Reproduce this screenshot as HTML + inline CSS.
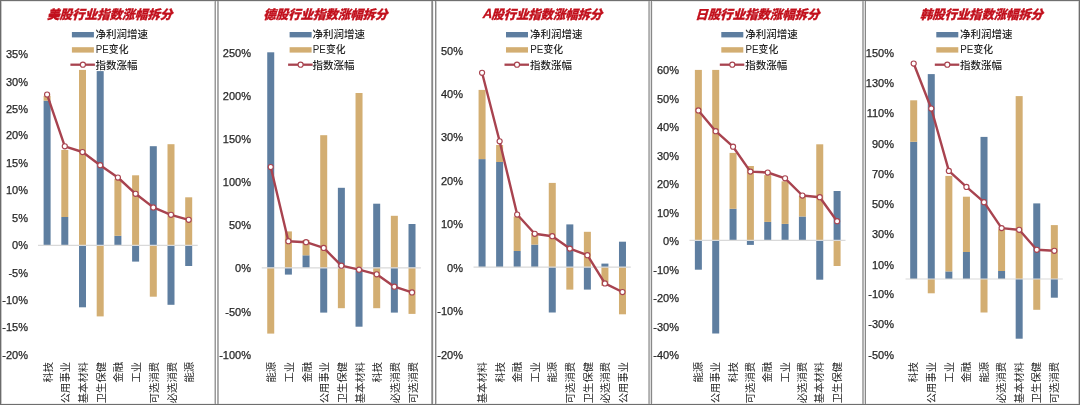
<!DOCTYPE html><html><head><meta charset="utf-8"><title>行业指数涨幅拆分</title><style>html,body{margin:0;padding:0;background:#fff;overflow:hidden;}svg{display:block;}.t{font-family:"Liberation Sans","Noto Sans CJK SC",sans-serif;font-weight:900;fill:#C2101C;font-size:12.5px;stroke:#C2101C;stroke-width:0.3px;}.l{font-family:"Liberation Sans","Noto Sans CJK SC",sans-serif;fill:#262626;font-size:10.5px;font-weight:500;}.y{font-family:"Liberation Sans","Noto Sans CJK SC",sans-serif;fill:#262626;font-size:11px;stroke:#262626;stroke-width:0.25px;}.x{font-family:"Liberation Sans","Noto Sans CJK SC",sans-serif;fill:#262626;font-size:10.3px;font-weight:400;}</style></head><body>
<svg width="1080" height="405" viewBox="0 0 1080 405">
<rect x="0" y="0" width="1080" height="405" fill="#fff"/>
<rect x="0" y="1" width="1080" height="1" fill="#e8e8e8"/>
<rect x="0" y="403" width="1080" height="1" fill="#f0f0f0"/>
<rect x="0" y="0" width="1" height="405" fill="#6b6b6b"/>
<rect x="1" y="0" width="1" height="405" fill="#c8c8c8"/>
<rect x="214" y="0" width="1" height="405" fill="#cccccc"/>
<rect x="215" y="0" width="1" height="405" fill="#999999"/>
<rect x="217" y="0" width="1" height="405" fill="#aaaaaa"/>
<rect x="218" y="0" width="1" height="405" fill="#b0b0b0"/>
<rect x="431" y="0" width="1" height="405" fill="#aaaaaa"/>
<rect x="432" y="0" width="1" height="405" fill="#888888"/>
<rect x="433" y="0" width="1" height="405" fill="#eeeeee"/>
<rect x="435" y="0" width="1" height="405" fill="#888888"/>
<rect x="436" y="0" width="1" height="405" fill="#cccccc"/>
<rect x="648" y="0" width="1" height="405" fill="#bbbbbb"/>
<rect x="649" y="0" width="1" height="405" fill="#b0b0b0"/>
<rect x="650" y="0" width="1" height="405" fill="#dddddd"/>
<rect x="651" y="0" width="1" height="405" fill="#888888"/>
<rect x="652" y="0" width="1" height="405" fill="#eeeeee"/>
<rect x="862" y="0" width="1" height="405" fill="#b0b0b0"/>
<rect x="863" y="0" width="1" height="405" fill="#b0b0b0"/>
<rect x="864" y="0" width="1" height="405" fill="#dddddd"/>
<rect x="865" y="0" width="1" height="405" fill="#888888"/>
<rect x="1078" y="0" width="1" height="405" fill="#cccccc"/>
<rect x="1079" y="0" width="1" height="405" fill="#6e6e6e"/>
<rect x="0" y="0" width="1080" height="1" fill="#707070"/>
<rect x="0" y="404" width="1080" height="1" fill="#6e6e6e"/>
<g>
<text class="t" transform="translate(47,19) skewX(-16) scale(1.09,1)" x="0" y="0" textLength="114.86" lengthAdjust="spacingAndGlyphs">美股行业指数涨幅拆分</text>
<rect x="71.9" y="32" width="22" height="5.4" fill="#5E7EA0"/>
<rect x="71.9" y="47.2" width="22" height="5.4" fill="#D3AE72"/>
<line x1="70.4" y1="64.7" x2="94.9" y2="64.7" stroke="#A8434F" stroke-width="2.3"/>
<circle cx="82.9" cy="64.7" r="2.55" fill="#fff" stroke="#A8434F" stroke-width="1.15"/>
<text class="l" x="95.4" y="38.2">净利润增速</text>
<text class="l" x="95.7" y="53.4" textLength="32.8" lengthAdjust="spacingAndGlyphs">PE变化</text>
<text class="l" x="95.4" y="68.7">指数涨幅</text>
<text class="y" x="28" y="58.2" text-anchor="end">35%</text>
<text class="y" x="28" y="85.6" text-anchor="end">30%</text>
<text class="y" x="28" y="112.5" text-anchor="end">25%</text>
<text class="y" x="28" y="139.4" text-anchor="end">20%</text>
<text class="y" x="28" y="166.7" text-anchor="end">15%</text>
<text class="y" x="28" y="194" text-anchor="end">10%</text>
<text class="y" x="28" y="221.5" text-anchor="end">5%</text>
<text class="y" x="28" y="248.9" text-anchor="end">0%</text>
<text class="y" x="28" y="276.5" text-anchor="end">-5%</text>
<text class="y" x="28" y="303.8" text-anchor="end">-10%</text>
<text class="y" x="28" y="331.2" text-anchor="end">-15%</text>
<text class="y" x="28" y="358.5" text-anchor="end">-20%</text>
<rect x="43.6" y="100.7" width="7" height="144.6" fill="#5E7EA0"/>
<rect x="43.6" y="95.8" width="7" height="4.9" fill="#D3AE72"/>
<rect x="61.3" y="217" width="7" height="28.3" fill="#5E7EA0"/>
<rect x="61.3" y="149.9" width="7" height="67.1" fill="#D3AE72"/>
<rect x="79" y="245.3" width="7" height="62" fill="#5E7EA0"/>
<rect x="79" y="69.9" width="7" height="175.4" fill="#D3AE72"/>
<rect x="96.7" y="71.1" width="7" height="174.2" fill="#5E7EA0"/>
<rect x="96.7" y="245.3" width="7" height="71.1" fill="#D3AE72"/>
<rect x="114.4" y="235.8" width="7" height="9.5" fill="#5E7EA0"/>
<rect x="114.4" y="179" width="7" height="56.8" fill="#D3AE72"/>
<rect x="132.1" y="245.3" width="7" height="16.3" fill="#5E7EA0"/>
<rect x="132.1" y="175.3" width="7" height="70" fill="#D3AE72"/>
<rect x="149.8" y="146.2" width="7" height="99.1" fill="#5E7EA0"/>
<rect x="149.8" y="245.3" width="7" height="51.4" fill="#D3AE72"/>
<rect x="167.5" y="245.3" width="7" height="59.5" fill="#5E7EA0"/>
<rect x="167.5" y="144.2" width="7" height="101.1" fill="#D3AE72"/>
<rect x="185.2" y="245.3" width="7" height="20.7" fill="#5E7EA0"/>
<rect x="185.2" y="197.3" width="7" height="48" fill="#D3AE72"/>
<line x1="38" y1="245.3" x2="197.7" y2="245.3" stroke="#D9D9D9" stroke-width="1.2"/>
<polyline points="47.1,94.6 64.8,146.3 82.5,152 100.2,165.2 117.9,177.5 135.6,193.8 153.3,207.4 171,214.8 188.7,219.8" fill="none" stroke="#A8434F" stroke-width="2.4" stroke-linejoin="round"/>
<circle cx="47.1" cy="94.6" r="2.55" fill="#fff" stroke="#A8434F" stroke-width="1.15"/>
<circle cx="64.8" cy="146.3" r="2.55" fill="#fff" stroke="#A8434F" stroke-width="1.15"/>
<circle cx="82.5" cy="152" r="2.55" fill="#fff" stroke="#A8434F" stroke-width="1.15"/>
<circle cx="100.2" cy="165.2" r="2.55" fill="#fff" stroke="#A8434F" stroke-width="1.15"/>
<circle cx="117.9" cy="177.5" r="2.55" fill="#fff" stroke="#A8434F" stroke-width="1.15"/>
<circle cx="135.6" cy="193.8" r="2.55" fill="#fff" stroke="#A8434F" stroke-width="1.15"/>
<circle cx="153.3" cy="207.4" r="2.55" fill="#fff" stroke="#A8434F" stroke-width="1.15"/>
<circle cx="171" cy="214.8" r="2.55" fill="#fff" stroke="#A8434F" stroke-width="1.15"/>
<circle cx="188.7" cy="219.8" r="2.55" fill="#fff" stroke="#A8434F" stroke-width="1.15"/>
<text class="x" transform="translate(51.6,362) rotate(-90)" x="0" y="0" text-anchor="end">科技</text>
<text class="x" transform="translate(69.3,362) rotate(-90)" x="0" y="0" text-anchor="end">公用事业</text>
<text class="x" transform="translate(87,362) rotate(-90)" x="0" y="0" text-anchor="end">基本材料</text>
<text class="x" transform="translate(104.7,362) rotate(-90)" x="0" y="0" text-anchor="end">卫生保健</text>
<text class="x" transform="translate(122.4,362) rotate(-90)" x="0" y="0" text-anchor="end">金融</text>
<text class="x" transform="translate(140.1,362) rotate(-90)" x="0" y="0" text-anchor="end">工业</text>
<text class="x" transform="translate(157.8,362) rotate(-90)" x="0" y="0" text-anchor="end">可选消费</text>
<text class="x" transform="translate(175.5,362) rotate(-90)" x="0" y="0" text-anchor="end">必选消费</text>
<text class="x" transform="translate(193.2,362) rotate(-90)" x="0" y="0" text-anchor="end">能源</text>
</g>
<g>
<text class="t" transform="translate(263.3,19) skewX(-16) scale(1.09,1)" x="0" y="0" textLength="113.85" lengthAdjust="spacingAndGlyphs">德股行业指数涨幅拆分</text>
<rect x="289.6" y="32" width="22" height="5.4" fill="#5E7EA0"/>
<rect x="289.6" y="47.2" width="22" height="5.4" fill="#D3AE72"/>
<line x1="288.1" y1="64.7" x2="312.6" y2="64.7" stroke="#A8434F" stroke-width="2.3"/>
<circle cx="300.6" cy="64.7" r="2.55" fill="#fff" stroke="#A8434F" stroke-width="1.15"/>
<text class="l" x="312.5" y="38.2">净利润增速</text>
<text class="l" x="312.8" y="53.4" textLength="32.8" lengthAdjust="spacingAndGlyphs">PE变化</text>
<text class="l" x="312.5" y="68.7">指数涨幅</text>
<text class="y" x="251" y="57" text-anchor="end">250%</text>
<text class="y" x="251" y="100.1" text-anchor="end">200%</text>
<text class="y" x="251" y="142.8" text-anchor="end">150%</text>
<text class="y" x="251" y="186.3" text-anchor="end">100%</text>
<text class="y" x="251" y="229.1" text-anchor="end">50%</text>
<text class="y" x="251" y="272" text-anchor="end">0%</text>
<text class="y" x="251" y="316" text-anchor="end">-50%</text>
<text class="y" x="251" y="359" text-anchor="end">-100%</text>
<rect x="267.23" y="52.3" width="7" height="215.5" fill="#5E7EA0"/>
<rect x="267.23" y="267.8" width="7" height="65.8" fill="#D3AE72"/>
<rect x="284.89" y="267.8" width="7" height="6.8" fill="#5E7EA0"/>
<rect x="284.89" y="231.4" width="7" height="36.4" fill="#D3AE72"/>
<rect x="302.55" y="255.3" width="7" height="12.5" fill="#5E7EA0"/>
<rect x="302.55" y="240" width="7" height="15.3" fill="#D3AE72"/>
<rect x="320.21" y="267.8" width="7" height="44.8" fill="#5E7EA0"/>
<rect x="320.21" y="135.2" width="7" height="132.6" fill="#D3AE72"/>
<rect x="337.87" y="187.8" width="7" height="80" fill="#5E7EA0"/>
<rect x="337.87" y="267.8" width="7" height="40.4" fill="#D3AE72"/>
<rect x="355.53" y="267.8" width="7" height="58.9" fill="#5E7EA0"/>
<rect x="355.53" y="93" width="7" height="174.8" fill="#D3AE72"/>
<rect x="373.19" y="203.7" width="7" height="64.1" fill="#5E7EA0"/>
<rect x="373.19" y="267.8" width="7" height="40.4" fill="#D3AE72"/>
<rect x="390.85" y="267.8" width="7" height="44.8" fill="#5E7EA0"/>
<rect x="390.85" y="215.8" width="7" height="52" fill="#D3AE72"/>
<rect x="408.51" y="224" width="7" height="43.8" fill="#5E7EA0"/>
<rect x="408.51" y="267.8" width="7" height="46.1" fill="#D3AE72"/>
<line x1="261.7" y1="267.8" x2="420.9" y2="267.8" stroke="#D9D9D9" stroke-width="1.2"/>
<polyline points="270.73,167 288.39,241.2 306.05,242.2 323.71,247.9 341.37,265.7 359.03,269.7 376.69,274.3 394.35,286.7 412.01,292.4" fill="none" stroke="#A8434F" stroke-width="2.4" stroke-linejoin="round"/>
<circle cx="270.73" cy="167" r="2.55" fill="#fff" stroke="#A8434F" stroke-width="1.15"/>
<circle cx="288.39" cy="241.2" r="2.55" fill="#fff" stroke="#A8434F" stroke-width="1.15"/>
<circle cx="306.05" cy="242.2" r="2.55" fill="#fff" stroke="#A8434F" stroke-width="1.15"/>
<circle cx="323.71" cy="247.9" r="2.55" fill="#fff" stroke="#A8434F" stroke-width="1.15"/>
<circle cx="341.37" cy="265.7" r="2.55" fill="#fff" stroke="#A8434F" stroke-width="1.15"/>
<circle cx="359.03" cy="269.7" r="2.55" fill="#fff" stroke="#A8434F" stroke-width="1.15"/>
<circle cx="376.69" cy="274.3" r="2.55" fill="#fff" stroke="#A8434F" stroke-width="1.15"/>
<circle cx="394.35" cy="286.7" r="2.55" fill="#fff" stroke="#A8434F" stroke-width="1.15"/>
<circle cx="412.01" cy="292.4" r="2.55" fill="#fff" stroke="#A8434F" stroke-width="1.15"/>
<text class="x" transform="translate(275.23,362) rotate(-90)" x="0" y="0" text-anchor="end">能源</text>
<text class="x" transform="translate(292.89,362) rotate(-90)" x="0" y="0" text-anchor="end">工业</text>
<text class="x" transform="translate(310.55,362) rotate(-90)" x="0" y="0" text-anchor="end">金融</text>
<text class="x" transform="translate(328.21,362) rotate(-90)" x="0" y="0" text-anchor="end">公用事业</text>
<text class="x" transform="translate(345.87,362) rotate(-90)" x="0" y="0" text-anchor="end">卫生保健</text>
<text class="x" transform="translate(363.53,362) rotate(-90)" x="0" y="0" text-anchor="end">基本材料</text>
<text class="x" transform="translate(381.19,362) rotate(-90)" x="0" y="0" text-anchor="end">科技</text>
<text class="x" transform="translate(398.85,362) rotate(-90)" x="0" y="0" text-anchor="end">必选消费</text>
<text class="x" transform="translate(416.51,362) rotate(-90)" x="0" y="0" text-anchor="end">可选消费</text>
</g>
<g>
<text class="t" transform="translate(481.8,19) skewX(-16) scale(1.09,1)" x="0" y="0" textLength="110.46" lengthAdjust="spacingAndGlyphs"><tspan font-size="13.3" dy="-0.8">A</tspan><tspan dy="0.8">股行业指数涨幅拆分</tspan></text>
<rect x="506" y="32" width="22" height="5.4" fill="#5E7EA0"/>
<rect x="506" y="47.2" width="22" height="5.4" fill="#D3AE72"/>
<line x1="504.5" y1="64.7" x2="529" y2="64.7" stroke="#A8434F" stroke-width="2.3"/>
<circle cx="517" cy="64.7" r="2.55" fill="#fff" stroke="#A8434F" stroke-width="1.15"/>
<text class="l" x="530" y="38.2">净利润增速</text>
<text class="l" x="530.3" y="53.4" textLength="32.8" lengthAdjust="spacingAndGlyphs">PE变化</text>
<text class="l" x="530" y="68.7">指数涨幅</text>
<text class="y" x="463" y="54.5" text-anchor="end">50%</text>
<text class="y" x="463" y="98.3" text-anchor="end">40%</text>
<text class="y" x="463" y="141.2" text-anchor="end">30%</text>
<text class="y" x="463" y="184.9" text-anchor="end">20%</text>
<text class="y" x="463" y="228.3" text-anchor="end">10%</text>
<text class="y" x="463" y="271.5" text-anchor="end">0%</text>
<text class="y" x="463" y="315.2" text-anchor="end">-10%</text>
<text class="y" x="463" y="358.9" text-anchor="end">-20%</text>
<rect x="478.57" y="159.1" width="7" height="108" fill="#5E7EA0"/>
<rect x="478.57" y="89.9" width="7" height="69.2" fill="#D3AE72"/>
<rect x="496.12" y="162" width="7" height="105.1" fill="#5E7EA0"/>
<rect x="496.12" y="145" width="7" height="17" fill="#D3AE72"/>
<rect x="513.67" y="251" width="7" height="16.1" fill="#5E7EA0"/>
<rect x="513.67" y="216.5" width="7" height="34.5" fill="#D3AE72"/>
<rect x="531.23" y="244.6" width="7" height="22.5" fill="#5E7EA0"/>
<rect x="531.23" y="233" width="7" height="11.6" fill="#D3AE72"/>
<rect x="548.77" y="267.1" width="7" height="45.4" fill="#5E7EA0"/>
<rect x="548.77" y="182.9" width="7" height="84.2" fill="#D3AE72"/>
<rect x="566.33" y="224.4" width="7" height="42.7" fill="#5E7EA0"/>
<rect x="566.33" y="267.1" width="7" height="22.5" fill="#D3AE72"/>
<rect x="583.88" y="267.1" width="7" height="22.5" fill="#5E7EA0"/>
<rect x="583.88" y="231.8" width="7" height="35.3" fill="#D3AE72"/>
<rect x="601.42" y="263.6" width="7" height="3.5" fill="#5E7EA0"/>
<rect x="601.42" y="267.1" width="7" height="18.8" fill="#D3AE72"/>
<rect x="618.98" y="241.7" width="7" height="25.4" fill="#5E7EA0"/>
<rect x="618.98" y="267.1" width="7" height="47.2" fill="#D3AE72"/>
<line x1="473.5" y1="267.1" x2="630.8" y2="267.1" stroke="#D9D9D9" stroke-width="1.2"/>
<polyline points="482.07,72.8 499.62,141.3 517.17,214.5 534.73,233.8 552.27,236.2 569.83,248.6 587.38,255.2 604.92,283.4 622.48,292" fill="none" stroke="#A8434F" stroke-width="2.4" stroke-linejoin="round"/>
<circle cx="482.07" cy="72.8" r="2.55" fill="#fff" stroke="#A8434F" stroke-width="1.15"/>
<circle cx="499.62" cy="141.3" r="2.55" fill="#fff" stroke="#A8434F" stroke-width="1.15"/>
<circle cx="517.17" cy="214.5" r="2.55" fill="#fff" stroke="#A8434F" stroke-width="1.15"/>
<circle cx="534.73" cy="233.8" r="2.55" fill="#fff" stroke="#A8434F" stroke-width="1.15"/>
<circle cx="552.27" cy="236.2" r="2.55" fill="#fff" stroke="#A8434F" stroke-width="1.15"/>
<circle cx="569.83" cy="248.6" r="2.55" fill="#fff" stroke="#A8434F" stroke-width="1.15"/>
<circle cx="587.38" cy="255.2" r="2.55" fill="#fff" stroke="#A8434F" stroke-width="1.15"/>
<circle cx="604.92" cy="283.4" r="2.55" fill="#fff" stroke="#A8434F" stroke-width="1.15"/>
<circle cx="622.48" cy="292" r="2.55" fill="#fff" stroke="#A8434F" stroke-width="1.15"/>
<text class="x" transform="translate(486.27,362) rotate(-90)" x="0" y="0" text-anchor="end">基本材料</text>
<text class="x" transform="translate(503.82,362) rotate(-90)" x="0" y="0" text-anchor="end">科技</text>
<text class="x" transform="translate(521.38,362) rotate(-90)" x="0" y="0" text-anchor="end">金融</text>
<text class="x" transform="translate(538.93,362) rotate(-90)" x="0" y="0" text-anchor="end">工业</text>
<text class="x" transform="translate(556.48,362) rotate(-90)" x="0" y="0" text-anchor="end">能源</text>
<text class="x" transform="translate(574.03,362) rotate(-90)" x="0" y="0" text-anchor="end">可选消费</text>
<text class="x" transform="translate(591.58,362) rotate(-90)" x="0" y="0" text-anchor="end">卫生保健</text>
<text class="x" transform="translate(609.12,362) rotate(-90)" x="0" y="0" text-anchor="end">必选消费</text>
<text class="x" transform="translate(626.68,362) rotate(-90)" x="0" y="0" text-anchor="end">公用事业</text>
</g>
<g>
<text class="t" transform="translate(695.3,19) skewX(-16) scale(1.09,1)" x="0" y="0" textLength="113.85" lengthAdjust="spacingAndGlyphs">日股行业指数涨幅拆分</text>
<rect x="721.3" y="32" width="22" height="5.4" fill="#5E7EA0"/>
<rect x="721.3" y="47.2" width="22" height="5.4" fill="#D3AE72"/>
<line x1="719.8" y1="64.7" x2="744.3" y2="64.7" stroke="#A8434F" stroke-width="2.3"/>
<circle cx="732.3" cy="64.7" r="2.55" fill="#fff" stroke="#A8434F" stroke-width="1.15"/>
<text class="l" x="745.2" y="38.2">净利润增速</text>
<text class="l" x="745.5" y="53.4" textLength="32.8" lengthAdjust="spacingAndGlyphs">PE变化</text>
<text class="l" x="745.2" y="68.7">指数涨幅</text>
<text class="y" x="679" y="74.3" text-anchor="end">60%</text>
<text class="y" x="679" y="102.5" text-anchor="end">50%</text>
<text class="y" x="679" y="131.4" text-anchor="end">40%</text>
<text class="y" x="679" y="159.8" text-anchor="end">30%</text>
<text class="y" x="679" y="188.3" text-anchor="end">20%</text>
<text class="y" x="679" y="216.7" text-anchor="end">10%</text>
<text class="y" x="679" y="245.1" text-anchor="end">0%</text>
<text class="y" x="679" y="273.7" text-anchor="end">-10%</text>
<text class="y" x="679" y="302.1" text-anchor="end">-20%</text>
<text class="y" x="679" y="330.5" text-anchor="end">-30%</text>
<text class="y" x="679" y="358.9" text-anchor="end">-40%</text>
<rect x="694.87" y="240.4" width="7" height="29.3" fill="#5E7EA0"/>
<rect x="694.87" y="69.9" width="7" height="170.5" fill="#D3AE72"/>
<rect x="712.21" y="240.4" width="7" height="93.1" fill="#5E7EA0"/>
<rect x="712.21" y="69.9" width="7" height="170.5" fill="#D3AE72"/>
<rect x="729.55" y="208.8" width="7" height="31.6" fill="#5E7EA0"/>
<rect x="729.55" y="152.9" width="7" height="55.9" fill="#D3AE72"/>
<rect x="746.89" y="240.4" width="7" height="4.5" fill="#5E7EA0"/>
<rect x="746.89" y="166" width="7" height="74.4" fill="#D3AE72"/>
<rect x="764.23" y="221.9" width="7" height="18.5" fill="#5E7EA0"/>
<rect x="764.23" y="175.1" width="7" height="46.8" fill="#D3AE72"/>
<rect x="781.57" y="223.9" width="7" height="16.5" fill="#5E7EA0"/>
<rect x="781.57" y="181.3" width="7" height="42.6" fill="#D3AE72"/>
<rect x="798.91" y="216.5" width="7" height="23.9" fill="#5E7EA0"/>
<rect x="798.91" y="196" width="7" height="20.5" fill="#D3AE72"/>
<rect x="816.25" y="240.4" width="7" height="39.3" fill="#5E7EA0"/>
<rect x="816.25" y="144.3" width="7" height="96.1" fill="#D3AE72"/>
<rect x="833.59" y="191" width="7" height="49.4" fill="#5E7EA0"/>
<rect x="833.59" y="240.4" width="7" height="25.6" fill="#D3AE72"/>
<line x1="689.5" y1="240.4" x2="845.5" y2="240.4" stroke="#D9D9D9" stroke-width="1.2"/>
<polyline points="698.37,110.4 715.71,131.2 733.05,146.7 750.39,171.6 767.73,172.5 785.07,178.3 802.41,195.5 819.75,197.2 837.09,221.2" fill="none" stroke="#A8434F" stroke-width="2.4" stroke-linejoin="round"/>
<circle cx="698.37" cy="110.4" r="2.55" fill="#fff" stroke="#A8434F" stroke-width="1.15"/>
<circle cx="715.71" cy="131.2" r="2.55" fill="#fff" stroke="#A8434F" stroke-width="1.15"/>
<circle cx="733.05" cy="146.7" r="2.55" fill="#fff" stroke="#A8434F" stroke-width="1.15"/>
<circle cx="750.39" cy="171.6" r="2.55" fill="#fff" stroke="#A8434F" stroke-width="1.15"/>
<circle cx="767.73" cy="172.5" r="2.55" fill="#fff" stroke="#A8434F" stroke-width="1.15"/>
<circle cx="785.07" cy="178.3" r="2.55" fill="#fff" stroke="#A8434F" stroke-width="1.15"/>
<circle cx="802.41" cy="195.5" r="2.55" fill="#fff" stroke="#A8434F" stroke-width="1.15"/>
<circle cx="819.75" cy="197.2" r="2.55" fill="#fff" stroke="#A8434F" stroke-width="1.15"/>
<circle cx="837.09" cy="221.2" r="2.55" fill="#fff" stroke="#A8434F" stroke-width="1.15"/>
<text class="x" transform="translate(702.07,362) rotate(-90)" x="0" y="0" text-anchor="end">能源</text>
<text class="x" transform="translate(719.41,362) rotate(-90)" x="0" y="0" text-anchor="end">公用事业</text>
<text class="x" transform="translate(736.75,362) rotate(-90)" x="0" y="0" text-anchor="end">科技</text>
<text class="x" transform="translate(754.09,362) rotate(-90)" x="0" y="0" text-anchor="end">可选消费</text>
<text class="x" transform="translate(771.43,362) rotate(-90)" x="0" y="0" text-anchor="end">金融</text>
<text class="x" transform="translate(788.77,362) rotate(-90)" x="0" y="0" text-anchor="end">工业</text>
<text class="x" transform="translate(806.11,362) rotate(-90)" x="0" y="0" text-anchor="end">必选消费</text>
<text class="x" transform="translate(823.45,362) rotate(-90)" x="0" y="0" text-anchor="end">基本材料</text>
<text class="x" transform="translate(840.79,362) rotate(-90)" x="0" y="0" text-anchor="end">卫生保健</text>
</g>
<g>
<text class="t" transform="translate(920,19) skewX(-16) scale(1.09,1)" x="0" y="0" textLength="112.66" lengthAdjust="spacingAndGlyphs">韩股行业指数涨幅拆分</text>
<rect x="936.3" y="32" width="22" height="5.4" fill="#5E7EA0"/>
<rect x="936.3" y="47.2" width="22" height="5.4" fill="#D3AE72"/>
<line x1="934.8" y1="64.7" x2="959.3" y2="64.7" stroke="#A8434F" stroke-width="2.3"/>
<circle cx="947.3" cy="64.7" r="2.55" fill="#fff" stroke="#A8434F" stroke-width="1.15"/>
<text class="l" x="960" y="38.2">净利润增速</text>
<text class="l" x="960.3" y="53.4" textLength="32.8" lengthAdjust="spacingAndGlyphs">PE变化</text>
<text class="l" x="960" y="68.7">指数涨幅</text>
<text class="y" x="894" y="57" text-anchor="end">150%</text>
<text class="y" x="894" y="87.1" text-anchor="end">130%</text>
<text class="y" x="894" y="117.3" text-anchor="end">110%</text>
<text class="y" x="894" y="147.7" text-anchor="end">90%</text>
<text class="y" x="894" y="177.5" text-anchor="end">70%</text>
<text class="y" x="894" y="207.9" text-anchor="end">50%</text>
<text class="y" x="894" y="238.2" text-anchor="end">30%</text>
<text class="y" x="894" y="268.5" text-anchor="end">10%</text>
<text class="y" x="894" y="298.1" text-anchor="end">-10%</text>
<text class="y" x="894" y="328.2" text-anchor="end">-30%</text>
<text class="y" x="894" y="358.9" text-anchor="end">-50%</text>
<rect x="910.19" y="141.8" width="7" height="137.2" fill="#5E7EA0"/>
<rect x="910.19" y="100.3" width="7" height="41.5" fill="#D3AE72"/>
<rect x="927.77" y="74.1" width="7" height="204.9" fill="#5E7EA0"/>
<rect x="927.77" y="279" width="7" height="14.3" fill="#D3AE72"/>
<rect x="945.35" y="271.4" width="7" height="7.6" fill="#5E7EA0"/>
<rect x="945.35" y="175.9" width="7" height="95.5" fill="#D3AE72"/>
<rect x="962.93" y="252" width="7" height="27" fill="#5E7EA0"/>
<rect x="962.93" y="196.7" width="7" height="55.3" fill="#D3AE72"/>
<rect x="980.51" y="136.9" width="7" height="142.1" fill="#5E7EA0"/>
<rect x="980.51" y="279" width="7" height="33.5" fill="#D3AE72"/>
<rect x="998.09" y="271" width="7" height="8" fill="#5E7EA0"/>
<rect x="998.09" y="229.3" width="7" height="41.7" fill="#D3AE72"/>
<rect x="1015.67" y="279" width="7" height="59.7" fill="#5E7EA0"/>
<rect x="1015.67" y="96.1" width="7" height="182.9" fill="#D3AE72"/>
<rect x="1033.25" y="203.4" width="7" height="75.6" fill="#5E7EA0"/>
<rect x="1033.25" y="279" width="7" height="30.8" fill="#D3AE72"/>
<rect x="1050.83" y="279" width="7" height="18.7" fill="#5E7EA0"/>
<rect x="1050.83" y="225.1" width="7" height="53.9" fill="#D3AE72"/>
<line x1="905.5" y1="279" x2="1062.8" y2="279" stroke="#D9D9D9" stroke-width="1.2"/>
<polyline points="913.69,63.5 931.27,108.5 948.85,170.9 966.43,186.9 984.01,202.2 1001.59,228.1 1019.17,229.8 1036.75,249.8 1054.33,250.8" fill="none" stroke="#A8434F" stroke-width="2.4" stroke-linejoin="round"/>
<circle cx="913.69" cy="63.5" r="2.55" fill="#fff" stroke="#A8434F" stroke-width="1.15"/>
<circle cx="931.27" cy="108.5" r="2.55" fill="#fff" stroke="#A8434F" stroke-width="1.15"/>
<circle cx="948.85" cy="170.9" r="2.55" fill="#fff" stroke="#A8434F" stroke-width="1.15"/>
<circle cx="966.43" cy="186.9" r="2.55" fill="#fff" stroke="#A8434F" stroke-width="1.15"/>
<circle cx="984.01" cy="202.2" r="2.55" fill="#fff" stroke="#A8434F" stroke-width="1.15"/>
<circle cx="1001.59" cy="228.1" r="2.55" fill="#fff" stroke="#A8434F" stroke-width="1.15"/>
<circle cx="1019.17" cy="229.8" r="2.55" fill="#fff" stroke="#A8434F" stroke-width="1.15"/>
<circle cx="1036.75" cy="249.8" r="2.55" fill="#fff" stroke="#A8434F" stroke-width="1.15"/>
<circle cx="1054.33" cy="250.8" r="2.55" fill="#fff" stroke="#A8434F" stroke-width="1.15"/>
<text class="x" transform="translate(917.39,362) rotate(-90)" x="0" y="0" text-anchor="end">科技</text>
<text class="x" transform="translate(934.97,362) rotate(-90)" x="0" y="0" text-anchor="end">公用事业</text>
<text class="x" transform="translate(952.55,362) rotate(-90)" x="0" y="0" text-anchor="end">工业</text>
<text class="x" transform="translate(970.13,362) rotate(-90)" x="0" y="0" text-anchor="end">金融</text>
<text class="x" transform="translate(987.71,362) rotate(-90)" x="0" y="0" text-anchor="end">能源</text>
<text class="x" transform="translate(1005.29,362) rotate(-90)" x="0" y="0" text-anchor="end">必选消费</text>
<text class="x" transform="translate(1022.87,362) rotate(-90)" x="0" y="0" text-anchor="end">基本材料</text>
<text class="x" transform="translate(1040.45,362) rotate(-90)" x="0" y="0" text-anchor="end">卫生保健</text>
<text class="x" transform="translate(1058.03,362) rotate(-90)" x="0" y="0" text-anchor="end">可选消费</text>
</g>
</svg></body></html>
